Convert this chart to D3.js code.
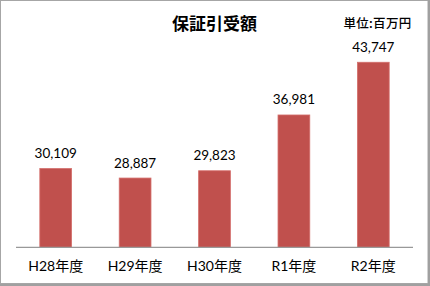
<!DOCTYPE html>
<html><head><meta charset="utf-8">
<script src="https://cdn.jsdelivr.net/npm/d3@7"></script>
<style>body{margin:0;background:#fff}svg{display:block}</style>
</head><body>
<script>
const categories = ["H28年度","H29年度","H30年度","R1年度","R2年度"];
const values = [30109, 28887, 29823, 36981, 43747];
const title = "保証引受額";
const unitLabel = "単位:百万円";
const yDomain = [20000, 45000];

const W = 430, H = 286;
const svg = d3.select("body").append("svg").attr("width", W).attr("height", H);
svg.append("rect").attr("x",0).attr("y",0).attr("width",W).attr("height",H).attr("fill","#fff");
svg.append("rect").attr("x",0.5).attr("y",0.5).attr("width",427.5).attr("height",283).attr("fill","none").attr("stroke","#a6a6a6").attr("stroke-width",1);
svg.append("rect").attr("x",428).attr("y",0).attr("width",2).attr("height",286).attr("fill","#a0a0a0");
svg.append("rect").attr("x",0).attr("y",284).attr("width",430).attr("height",2).attr("fill","#a0a0a0");

const x = d3.scaleBand().domain(categories).range([16, 413]).paddingInner(0.6).paddingOuter(0.3);
const y = d3.scaleLinear().domain(yDomain).range([247.3, 52.5]);

const font = "Lato, 'Noto Sans CJK JP', sans-serif";

svg.append("g").selectAll("rect").data(values).join("rect")
  .attr("x", (d,i)=>x(categories[i]))
  .attr("y", d=>y(d))
  .attr("width", x.bandwidth())
  .attr("height", d=>y(yDomain[0])-y(d))
  .attr("fill","#c0504d")
  .attr("stroke","#d46e6b").attr("stroke-width",0.8);

const axis = svg.append("g").attr("transform",`translate(0,${y(yDomain[0])})`)
  .call(d3.axisBottom(x).tickSize(0).tickPadding(14));
axis.select(".domain").attr("stroke","#999").attr("stroke-width",1.2).attr("d","M16,0H413");
axis.selectAll("text").attr("font-family",font).attr("font-size",14).attr("fill","#000");

svg.append("g").selectAll("text").data(values).join("text")
  .attr("x",(d,i)=>x(categories[i])+x.bandwidth()/2)
  .attr("y",d=>y(d)-10.5)
  .attr("text-anchor","middle")
  .attr("font-family",font).attr("font-size",13.5).attr("fill","#000")
  .text(d=>d3.format(",")(d));

svg.append("text").attr("x",214.5).attr("y",30).attr("text-anchor","middle")
  .attr("font-family","'Noto Sans CJK JP', sans-serif").attr("font-weight","bold").attr("font-size",17).text(title);
svg.append("text").attr("x",411.5).attr("y",28).attr("text-anchor","end")
  .attr("font-family","'Noto Sans CJK JP', sans-serif").attr("font-weight","500").attr("font-size",12.5)
  .attr("letter-spacing",0.3).text(unitLabel);
</script>
</body></html>
